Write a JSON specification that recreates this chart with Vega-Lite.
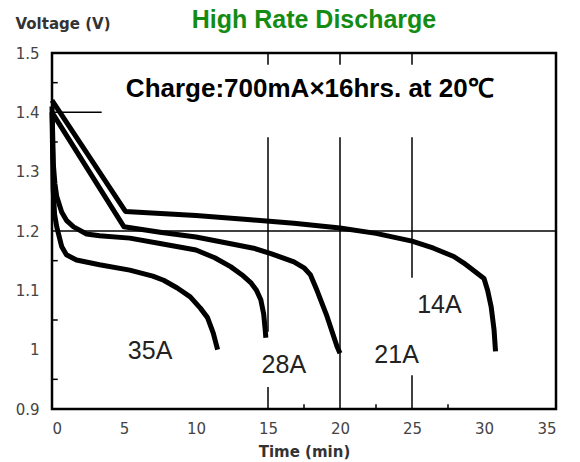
{
  "$schema": "https://vega.github.io/schema/vega-lite/v6.json",
  "width": 504,
  "height": 356,
  "autosize": "none",
  "padding": {"left": 52, "top": 53, "right": 24, "bottom": 53},
  "title": {
    "text": "High Rate Discharge",
    "anchor": "middle",
    "frame": "group",
    "fontSize": 25,
    "fontWeight": "bold",
    "color": "#148c14",
    "font": "Liberation Sans",
    "baseline": "alphabetic",
    "offset": 0,
    "dy": 37,
    "dx": 10
  },
  "datasets": {
    "curves": [
      {"series": "14A", "t": 0, "v": 1.42},
      {"series": "14A", "t": 5.1, "v": 1.233},
      {"series": "14A", "t": 10, "v": 1.226},
      {"series": "14A", "t": 13.8, "v": 1.219},
      {"series": "14A", "t": 16.8, "v": 1.213},
      {"series": "14A", "t": 20, "v": 1.205},
      {"series": "14A", "t": 22.5, "v": 1.196},
      {"series": "14A", "t": 25, "v": 1.183},
      {"series": "14A", "t": 26.5, "v": 1.171},
      {"series": "14A", "t": 27.9, "v": 1.157},
      {"series": "14A", "t": 28.6, "v": 1.146},
      {"series": "14A", "t": 29.3, "v": 1.133},
      {"series": "14A", "t": 30, "v": 1.12},
      {"series": "14A", "t": 30.25, "v": 1.1},
      {"series": "14A", "t": 30.5, "v": 1.072},
      {"series": "14A", "t": 30.7, "v": 1.033},
      {"series": "14A", "t": 30.8, "v": 0.997},
      {"series": "21A", "t": 0, "v": 1.4},
      {"series": "21A", "t": 5.0, "v": 1.207},
      {"series": "21A", "t": 7.5, "v": 1.198},
      {"series": "21A", "t": 10, "v": 1.19},
      {"series": "21A", "t": 12.5, "v": 1.178},
      {"series": "21A", "t": 14, "v": 1.171},
      {"series": "21A", "t": 15.2, "v": 1.162},
      {"series": "21A", "t": 16.8, "v": 1.148},
      {"series": "21A", "t": 17.5, "v": 1.138},
      {"series": "21A", "t": 17.95, "v": 1.126},
      {"series": "21A", "t": 18.4, "v": 1.1},
      {"series": "21A", "t": 19.1, "v": 1.056},
      {"series": "21A", "t": 19.8, "v": 1.005},
      {"series": "21A", "t": 20, "v": 0.994},
      {"series": "28A", "t": 0, "v": 1.41},
      {"series": "28A", "t": 0.1, "v": 1.31},
      {"series": "28A", "t": 0.2, "v": 1.28},
      {"series": "28A", "t": 0.33, "v": 1.258},
      {"series": "28A", "t": 0.67, "v": 1.232},
      {"series": "28A", "t": 1.0, "v": 1.218},
      {"series": "28A", "t": 1.5, "v": 1.207},
      {"series": "28A", "t": 2.4, "v": 1.195},
      {"series": "28A", "t": 3.3, "v": 1.192},
      {"series": "28A", "t": 5.4, "v": 1.188},
      {"series": "28A", "t": 7.5, "v": 1.179},
      {"series": "28A", "t": 10, "v": 1.168},
      {"series": "28A", "t": 11.3, "v": 1.155},
      {"series": "28A", "t": 12.4, "v": 1.14},
      {"series": "28A", "t": 13.2, "v": 1.126},
      {"series": "28A", "t": 13.8, "v": 1.113},
      {"series": "28A", "t": 14.2, "v": 1.1},
      {"series": "28A", "t": 14.5, "v": 1.084},
      {"series": "28A", "t": 14.7, "v": 1.06},
      {"series": "28A", "t": 14.8, "v": 1.035},
      {"series": "28A", "t": 14.85, "v": 1.02},
      {"series": "35A", "t": 0, "v": 1.4},
      {"series": "35A", "t": 0.08, "v": 1.27},
      {"series": "35A", "t": 0.18, "v": 1.228},
      {"series": "35A", "t": 0.33, "v": 1.207},
      {"series": "35A", "t": 0.67, "v": 1.174},
      {"series": "35A", "t": 1.0, "v": 1.16},
      {"series": "35A", "t": 1.7, "v": 1.151},
      {"series": "35A", "t": 3.3, "v": 1.143},
      {"series": "35A", "t": 5.4, "v": 1.134},
      {"series": "35A", "t": 7.0, "v": 1.124},
      {"series": "35A", "t": 7.75, "v": 1.117},
      {"series": "35A", "t": 8.7, "v": 1.104},
      {"series": "35A", "t": 9.6, "v": 1.089},
      {"series": "35A", "t": 10.3, "v": 1.07},
      {"series": "35A", "t": 10.8, "v": 1.054},
      {"series": "35A", "t": 11.2, "v": 1.028},
      {"series": "35A", "t": 11.5, "v": 1.0}
    ],
    "segments": [
      {"t": 0, "t2": 3.45, "v": 1.4, "v2": 1.4},
      {"t": 0, "t2": 35, "v": 1.2, "v2": 1.2},
      {"t": 15, "t2": 15, "v": 1.03, "v2": 1.358},
      {"t": 15, "t2": 15, "v": 0.9, "v2": 0.937},
      {"t": 20, "t2": 20, "v": 0.9, "v2": 1.358},
      {"t": 25, "t2": 25, "v": 1.121, "v2": 1.358},
      {"t": 25, "t2": 25, "v": 0.9, "v2": 0.957},
      {"t": 15, "t2": 15, "v": 1.48, "v2": 1.5},
      {"t": 20, "t2": 20, "v": 1.48, "v2": 1.5},
      {"t": 25, "t2": 25, "v": 1.48, "v2": 1.5},
      {"t": 17.5, "t2": 17.5, "v": 0.9, "v2": 0.908},
      {"t": 22.5, "t2": 22.5, "v": 0.9, "v2": 0.908},
      {"t": 27.5, "t2": 27.5, "v": 0.9, "v2": 0.908},
      {"t": 0, "t2": 0.4, "v": 0.95, "v2": 0.95},
      {"t": 0, "t2": 0.4, "v": 1.05, "v2": 1.05},
      {"t": 0, "t2": 0.4, "v": 1.15, "v2": 1.15},
      {"t": 0, "t2": 0.4, "v": 1.25, "v2": 1.25},
      {"t": 0, "t2": 0.4, "v": 1.35, "v2": 1.35},
      {"t": 0, "t2": 0.4, "v": 1.45, "v2": 1.45}
    ],
    "labels": [
      {"label": "35A", "t": 6.81, "v": 0.984},
      {"label": "28A", "t": 16.1, "v": 0.96},
      {"label": "21A", "t": 23.93, "v": 0.977},
      {"label": "14A", "t": 26.9, "v": 1.061}
    ],
    "note": [
      {"label": "Charge:700mA×16hrs. at 20℃", "t": 17.9, "v": 1.4265}
    ]
  },
  "layer": [
    {
      "data": {"name": "segments"},
      "mark": {"type": "rule", "color": "#000", "strokeWidth": 1.5},
      "encoding": {
        "x": {"field": "t", "type": "quantitative", "scale": {"domain": [0, 35], "nice": false, "zero": false},
          "axis": {"values": [0, 5, 10, 15, 20, 25, 30, 35], "ticks": false, "domain": false, "grid": false,
            "labelFontSize": 15, "labelFontWeight": "normal", "labelColor": "#444", "labelFont": "DejaVu Sans", "labelPadding": 12,
            "title": "Time (min)", "titleFontSize": 15, "titleFontWeight": "bold", "titleColor": "#333",
            "titleFont": "DejaVu Sans", "titlePadding": 8}},
        "x2": {"field": "t2"},
        "y": {"field": "v", "type": "quantitative", "scale": {"domain": [0.9, 1.5], "nice": false, "zero": false},
          "axis": {"values": [0.9, 1, 1.1, 1.2, 1.3, 1.4, 1.5], "format": ".1~f", "ticks": false, "domain": false, "grid": false,
            "labelFontSize": 15, "labelFontWeight": "normal", "labelColor": "#444", "labelFont": "DejaVu Sans", "labelPadding": 13,
            "title": "Voltage (V)", "titleAngle": 0, "titleAlign": "left", "titleBaseline": "middle",
            "titleX": -37, "titleY": -30, "titleFontSize": 15, "titleFontWeight": "bold", "titleColor": "#333",
            "titleFont": "DejaVu Sans"}},
        "y2": {"field": "v2"}
      }
    },
    {
      "data": {"name": "curves"},
      "mark": {"type": "line", "color": "#000", "strokeWidth": 5, "strokeJoin": "round"},
      "encoding": {
        "x": {"field": "t", "type": "quantitative"},
        "y": {"field": "v", "type": "quantitative"},
        "detail": {"field": "series"}
      }
    },
    {
      "data": {"name": "labels"},
      "mark": {"type": "text", "fontSize": 25, "font": "Liberation Sans", "color": "#222", "align": "center", "baseline": "alphabetic"},
      "encoding": {
        "x": {"field": "t", "type": "quantitative"},
        "y": {"field": "v", "type": "quantitative"},
        "text": {"field": "label"}
      }
    },
    {
      "data": {"name": "note"},
      "mark": {"type": "text", "fontSize": 26, "fontWeight": "bold", "font": "Liberation Sans", "color": "#000", "align": "center", "baseline": "alphabetic"},
      "encoding": {
        "x": {"field": "t", "type": "quantitative"},
        "y": {"field": "v", "type": "quantitative"},
        "text": {"field": "label"}
      }
    }
  ],
  "config": {
    "view": {"stroke": "#000", "strokeWidth": 2.5},
    "font": "Liberation Sans"
  }
}
